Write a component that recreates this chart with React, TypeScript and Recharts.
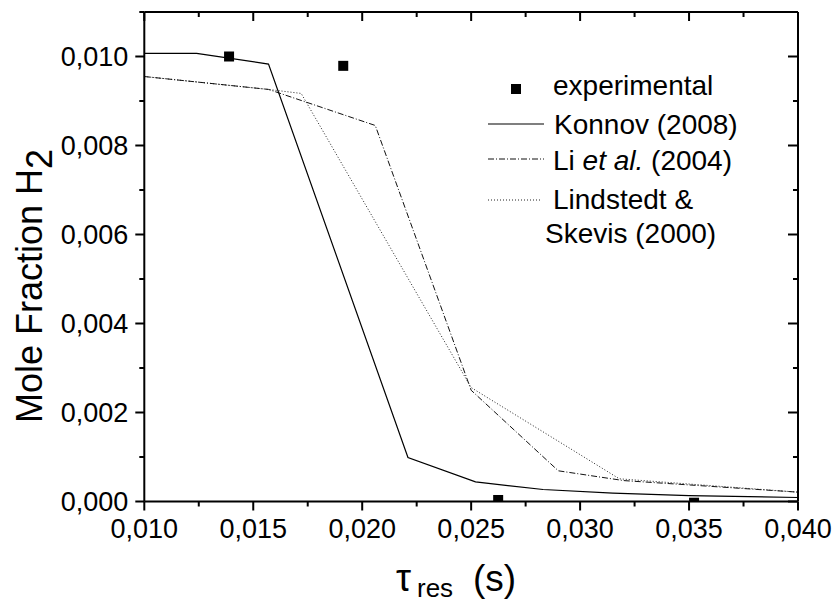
import React from 'react';
import { ComposedChart, Line, Scatter, XAxis, YAxis, Legend } from 'recharts';

const xTicks = [0.01, 0.0125, 0.015, 0.0175, 0.02, 0.0225, 0.025, 0.0275, 0.03, 0.0325, 0.035, 0.0375, 0.04];
const xMajor = [0.01, 0.015, 0.02, 0.025, 0.03, 0.035, 0.04];
const yTicks = [0, 0.001, 0.002, 0.003, 0.004, 0.005, 0.006, 0.007, 0.008, 0.009, 0.01, 0.011];
const yMajor = [0, 0.002, 0.004, 0.006, 0.008, 0.01];

const konnovX = [0.01, 0.0124, 0.0157, 0.0221, 0.0252, 0.0283, 0.0315, 0.035, 0.04];
const konnovY = [0.01007, 0.01007, 0.00983, 0.00099, 0.00044, 0.00027, 0.00019, 0.00013, 0.00009];

const liX = [0.01, 0.0157, 0.0206, 0.025, 0.029, 0.032, 0.04];
const liY = [0.00955, 0.00926, 0.00845, 0.0025, 0.00069, 0.00047, 0.00021];

const lindX = [0.01, 0.0157, 0.0172, 0.025, 0.0318, 0.04];
const lindY = [0.00955, 0.00926, 0.00917, 0.00256, 0.00051, 0.00021];

const expX = [0.01389, 0.01913, 0.02624, 0.03523];
const expY = [0.01, 0.00979, 0.000034, -0.000027];

const legendLabels = ['experimental', 'Konnov (2008)', 'Li et al. (2004)', 'Lindstedt &', 'Skevis (2000)'];

const toPts = (xs: number[], ys: number[]) => xs.map((x, i) => ({ x, y: ys[i] }));
const konnov = toPts(konnovX, konnovY);
const li = toPts(liX, liY);
const lind = toPts(lindX, lindY);
const exp = toPts(expX, expY);

const FONT = '"Liberation Sans", Arial, Helvetica, sans-serif';
const fmt = (v: number) => v.toFixed(3).replace('.', ',');
const isMajor = (v: number, majors: number[]) => majors.some((m) => Math.abs(m - v) < 1e-9);

const BottomTick = (props: any) => {
  const { x, y, payload } = props;
  const major = isMajor(payload.value, xMajor);
  return (
    <g>
      <line x1={x} x2={x} y1={y} y2={y + (major ? 9 : 5)} stroke="#000" strokeWidth={2} />
      {major && (
        <text x={x} y={y + 36} textAnchor="middle" fontSize={27} fontFamily={FONT} fill="#000">
          {fmt(payload.value)}
        </text>
      )}
    </g>
  );
};

const TopTick = (props: any) => {
  const { x, y, payload } = props;
  const major = isMajor(payload.value, xMajor);
  return <line x1={x} x2={x} y1={y} y2={y + (major ? 9 : 5)} stroke="#000" strokeWidth={2} />;
};

const LeftTick = (props: any) => {
  const { x, y, payload } = props;
  const major = isMajor(payload.value, yMajor);
  return (
    <g>
      <line x1={x} x2={x - (major ? 9 : 5)} y1={y} y2={y} stroke="#000" strokeWidth={2} />
      {major && (
        <text x={x - 16} y={y + 9.5} textAnchor="end" fontSize={27} fontFamily={FONT} fill="#000">
          {fmt(payload.value)}
        </text>
      )}
    </g>
  );
};

const RightTick = (props: any) => {
  const { x, y, payload } = props;
  const major = isMajor(payload.value, yMajor);
  return <line x1={x} x2={x - (major ? 10 : 5)} y1={y} y2={y} stroke="#000" strokeWidth={2} />;
};

const Square = (props: any) => {
  const { cx, cy } = props;
  return <rect x={cx - 5} y={cy - 5} width={10} height={10} fill="#000" />;
};

const XTitle = () => (
  <text fontFamily={FONT} fill="#000">
    <tspan x={396} y={591} fontSize={38}>τ</tspan>
    <tspan x={417} y={597} fontSize={26}>res</tspan>
    <tspan x={473} y={591} fontSize={37}>(s)</tspan>
  </text>
);

const YTitle = () => (
  <text transform="translate(42,423) rotate(-90)" fontFamily={FONT} fill="#000" fontSize={36}>
    Mole Fraction H<tspan dy={10}>2</tspan>
  </text>
);

const LX = 470;
const LY = 60;
const renderLegend = () => (
  <svg width={340} height={200} style={{ overflow: 'visible' }}>
    <g transform={`translate(${-LX},${-LY})`} fontFamily={FONT} fontSize={28} fill="#000">
      <rect x={511} y={84} width={10} height={10} fill="#000" />
      <text x={553} y={95}>{legendLabels[0]}</text>
      <line x1={488} x2={544} y1={124} y2={124} stroke="#000" strokeWidth={1.2} />
      <text x={554} y={134}>{legendLabels[1]}</text>
      <line x1={488} x2={544} y1={159} y2={159} stroke="#111" strokeWidth={1} strokeDasharray="6 2 1 2" />
      <text x={553} y={170}>
        Li <tspan fontStyle="italic">et al.</tspan> (2004)
      </text>
      <line x1={488} x2={540} y1={200} y2={200} stroke="#222" strokeWidth={1} strokeDasharray="1 2" />
      <text x={553} y={209}>{legendLabels[3]}</text>
      <text x={545} y={243}>{legendLabels[4]}</text>
    </g>
  </svg>
);

export default function App() {
  return (
    <div style={{ position: 'absolute', left: 0, top: 0, width: 835, height: 602, background: '#fff' }}>
      <ComposedChart width={835} height={602} margin={{ top: 11, right: 36, left: 0, bottom: 0 }}>
        <XAxis
          xAxisId={0}
          dataKey="x"
          type="number"
          domain={[0.01, 0.04]}
          ticks={xTicks}
          interval={0}
          allowDataOverflow
          height={100.5}
          tickSize={0}
          tickMargin={0}
          tickLine={false}
          axisLine={{ stroke: '#000', strokeWidth: 2 }}
          tick={<BottomTick />}
          label={{ content: () => <XTitle /> }}
        />
        <XAxis
          xAxisId="top"
          orientation="top"
          dataKey="x"
          type="number"
          domain={[0.01, 0.04]}
          ticks={xTicks}
          interval={0}
          allowDataOverflow
          height={1}
          tickSize={0}
          tickMargin={0}
          tickLine={false}
          axisLine={{ stroke: '#000', strokeWidth: 2 }}
          tick={<TopTick />}
        />
        <YAxis
          yAxisId={0}
          type="number"
          domain={[0, 0.011]}
          ticks={yTicks}
          interval={0}
          allowDataOverflow
          width={144.3}
          tickSize={0}
          tickMargin={0}
          tickLine={false}
          axisLine={{ stroke: '#000', strokeWidth: 2 }}
          tick={<LeftTick />}
          label={{ content: () => <YTitle /> }}
        />
        <YAxis
          yAxisId="right"
          orientation="right"
          type="number"
          domain={[0, 0.011]}
          ticks={yTicks}
          interval={0}
          allowDataOverflow
          width={1}
          tickSize={0}
          tickMargin={0}
          tickLine={false}
          axisLine={{ stroke: '#000', strokeWidth: 2 }}
          tick={<RightTick />}
        />
        <Legend
          layout="vertical"
          align="center"
          verticalAlign="middle"
          content={renderLegend}
          wrapperStyle={{ position: 'absolute', left: LX, top: LY, width: 340, height: 200 }}
        />
        <Line xAxisId="top" yAxisId="right" data={konnov} dataKey="y" stroke="none" dot={false} legendType="none" isAnimationActive={false} />
        <Line data={lind} dataKey="y" stroke="#222" strokeWidth={1} strokeDasharray="1 2" dot={false} isAnimationActive={false} />
        <Line data={li} dataKey="y" stroke="#111" strokeWidth={1} strokeDasharray="6 2 1 2" dot={false} isAnimationActive={false} />
        <Line data={konnov} dataKey="y" stroke="#000" strokeWidth={1.2} dot={false} isAnimationActive={false} />
        <Scatter data={exp} dataKey="y" shape={<Square />} isAnimationActive={false} />
      </ComposedChart>
    </div>
  );
}
